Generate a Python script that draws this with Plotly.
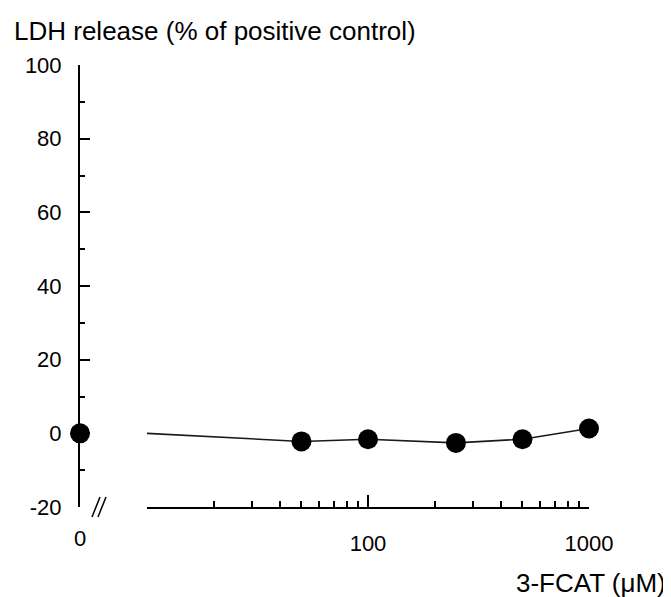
import plotly.graph_objects as go

# Data
control_x = [0]
control_y = [0.0]
conc = [10, 50, 100, 250, 500, 1000]
ldh = [0.0, -2.2, -1.6, -2.6, -1.6, 1.3]
point_conc = [50, 100, 250, 500, 1000]
point_ldh = [-2.2, -1.6, -2.6, -1.6, 1.3]
y_ticks = [-20, 0, 20, 40, 60, 80, 100]
y_tick_labels = ["-20", "0", "20", "40", "60", "80", "100"]
x_ticks = [100, 1000]
x_tick_labels = ["100", "1000"]
x_minor = [20, 30, 40, 50, 60, 70, 80, 90, 200, 300, 400, 500, 600, 700, 800, 900]

W, H = 671, 597
OFF = 8  # page body margin
L, R, T, B = 80 - OFF, 589 - OFF, 65 - OFF, 507 - OFF
pw, ph = R - L, B - T

def px(x):
    return (x - OFF - L) / pw

def py(y):
    return (B - (y - OFF)) / ph

FONT = "Liberation Sans, Arial, sans-serif"

fig = go.Figure()
fig.add_trace(go.Scatter(
    x=conc, y=ldh, xaxis="x2", yaxis="y", mode="lines",
    line=dict(color="#1a1a1a", width=1.6),
    cliponaxis=False, showlegend=False))
fig.add_trace(go.Scatter(
    x=point_conc, y=point_ldh, xaxis="x2", yaxis="y", mode="markers",
    marker=dict(color="black", size=20, opacity=1, line=dict(width=0)),
    cliponaxis=False, showlegend=False))
fig.add_trace(go.Scatter(
    x=control_x, y=control_y, xaxis="x", yaxis="y", mode="markers",
    marker=dict(color="black", size=20, opacity=1, line=dict(width=0)),
    cliponaxis=False, showlegend=False))

fig.update_layout(
    width=W, height=H,
    margin=dict(l=L, r=W - R, t=T, b=H - B, autoexpand=False),
    plot_bgcolor="white", paper_bgcolor="white",
    font=dict(family=FONT, size=22, color="black"),
    xaxis=dict(domain=[0, 0.06], range=[0, 1], showline=False, showgrid=False,
               zeroline=False, tickmode="array", tickvals=[0], ticktext=["0"],
               ticks="", ticklabelstandoff=16),
    xaxis2=dict(domain=[(147 - 80) / 509, 1], type="log", range=[1, 3], anchor="y",
                showline=True, linecolor="black", linewidth=2, showgrid=False,
                zeroline=False, tickmode="array", tickvals=x_ticks,
                ticktext=x_tick_labels, ticks="inside", ticklen=12, tickwidth=2,
                tickcolor="black", ticklabelstandoff=16,
                minor=dict(tickmode="array", tickvals=x_minor, ticks="inside",
                           ticklen=6, tickwidth=1.5, tickcolor="black", showgrid=False)),
    yaxis=dict(range=[-20, 100], anchor="x", showline=True, linecolor="black",
               linewidth=2, showgrid=False, zeroline=False, tickmode="array",
               tickvals=y_ticks, ticktext=y_tick_labels, ticks="inside", ticklen=10,
               tickwidth=2, tickcolor="black", ticklabelstandoff=12,
               minor=dict(dtick=10, ticks="inside", ticklen=5, tickwidth=1.5,
                          tickcolor="black", showgrid=False)),
    annotations=[
        dict(text="LDH release (% of positive control)", xref="paper", yref="paper",
             x=px(12), y=py(31), xanchor="left", yanchor="middle", showarrow=False,
             font=dict(size=26)),
        dict(text="3-FCAT (μM)", xref="paper", yref="paper",
             x=px(668), y=py(583), xanchor="right", yanchor="middle", showarrow=False,
             font=dict(size=26)),
    ],
    shapes=[
        dict(type="line", xref="paper", yref="paper", x0=px(92), y0=py(517), x1=px(100), y1=py(497),
             line=dict(color="black", width=1.5)),
        dict(type="line", xref="paper", yref="paper", x0=px(98), y0=py(517), x1=px(106), y1=py(497),
             line=dict(color="black", width=1.5)),
    ],
)

fig.write_html("out.html")
